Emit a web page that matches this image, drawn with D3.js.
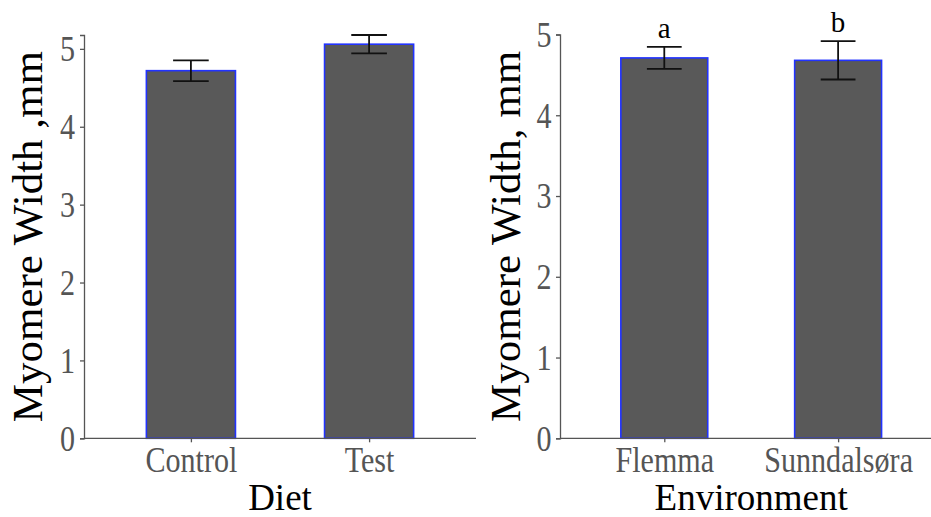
<!DOCTYPE html>
<html>
<head>
<meta charset="utf-8">
<script src="https://cdn.jsdelivr.net/npm/d3@7"></script>
<style>
  html, body { margin: 0; padding: 0; background: #fff; }
  svg { display: block; }
  svg text { font-family: "Liberation Serif", "Times New Roman", "DejaVu Serif", serif; }
</style>
</head>
<body>
<svg id="chart" width="931" height="517"></svg>
<script>
// ---- Data ----
const dietCategories = ["Control", "Test"];
const dietMeans = [4.72, 5.06];
const dietSE = [0.133, 0.118];

const envCategories = ["Flemma", "Sunndalsøra"];
const envMeans = [4.71, 4.68];
const envSE = [0.136, 0.237];
const envLetters = ["a", "b"];

const yTicks = [0, 1, 2, 3, 4, 5];

const leftYTitle = "Myomere Width ,mm";
const rightYTitle = "Myomere Width, mm";
const leftXTitle = "Diet";
const rightXTitle = "Environment";

// ---- Drawing ----
const svg = d3.select("#chart");
const FONT = '"Liberation Serif", "Times New Roman", serif';
const TICK_SCALE = 0.86;

function drawPanel(opt) {
  const g = svg.append("g");
  const x = d3.scalePoint().domain(opt.categories).range([opt.x0, opt.x1]).padding(0.6);
  const step = x.step();
  const y = d3.scaleLinear().domain([0, opt.yMax]).range([opt.yBottom, opt.yTop]);

  const rows = opt.categories.map((c, i) => ({ c, m: opt.means[i], se: opt.se[i], lab: opt.letters ? opt.letters[i] : null }));

  // bars
  g.selectAll("rect.bar").data(rows).join("rect")
    .attr("class", "bar")
    .attr("x", d => x(d.c) - step * 0.25)
    .attr("width", step * 0.5)
    .attr("y", d => y(d.m))
    .attr("height", d => y(0) - y(d.m))
    .attr("fill", "#595959")
    .attr("stroke", "#2233ff")
    .attr("stroke-width", 1.6);

  // error bars
  const eb = g.selectAll("g.err").data(rows).join("g").attr("class", "err")
    .attr("stroke", "#111").attr("stroke-width", 1.8).attr("fill", "none");
  eb.append("line")
    .attr("x1", d => x(d.c)).attr("x2", d => x(d.c))
    .attr("y1", d => y(d.m + d.se)).attr("y2", d => y(d.m - d.se));
  eb.append("line")
    .attr("x1", d => x(d.c) - step * 0.1).attr("x2", d => x(d.c) + step * 0.1)
    .attr("y1", d => y(d.m + d.se)).attr("y2", d => y(d.m + d.se));
  eb.append("line")
    .attr("x1", d => x(d.c) - step * 0.1).attr("x2", d => x(d.c) + step * 0.1)
    .attr("y1", d => y(d.m - d.se)).attr("y2", d => y(d.m - d.se));

  // letters
  if (opt.letters) {
    g.selectAll("text.letter").data(rows).join("text")
      .attr("class", "letter")
      .attr("x", d => x(d.c))
      .attr("y", d => y(d.m + d.se) - 9)
      .attr("text-anchor", "middle")
      .style("font-family", FONT)
      .style("font-size", "29px")
      .attr("fill", "#000")
      .text(d => d.lab);
  }

  // y axis
  const ya = g.append("g").attr("transform", `translate(${opt.x0},0)`)
    .call(d3.axisLeft(y).tickValues(yTicks).tickFormat(d3.format("d")).tickSizeOuter(0).tickSize(4));
  ya.attr("font-family", null).attr("font-size", null);
  ya.select(".domain").attr("stroke", "#555").attr("stroke-width", 1.3);
  ya.selectAll(".tick line").attr("stroke", "#555").attr("stroke-width", 1.3);
  ya.selectAll(".tick text")
    .style("font-family", FONT).style("font-size", "35px").attr("fill", "#555")
    .attr("x", -opt.yLabelGap / TICK_SCALE).attr("dy", "0.34em")
    .attr("transform", `scale(${TICK_SCALE},1)`);

  // x axis
  const xa = g.append("g").attr("transform", `translate(0,${opt.yBottom})`)
    .call(d3.axisBottom(x).tickSizeOuter(0).tickSize(4));
  xa.attr("font-family", null).attr("font-size", null);
  xa.select(".domain").attr("stroke", "#555").attr("stroke-width", 1.3)
    .attr("d", `M${opt.x0},0H${opt.x1}`);
  xa.selectAll(".tick line").attr("stroke", "#555").attr("stroke-width", 1.3);
  xa.selectAll(".tick text")
    .style("font-family", FONT).style("font-size", "35px").attr("fill", "#555")
    .attr("y", 34).attr("dy", 0)
    .attr("transform", `scale(${TICK_SCALE},1)`);

  // axis titles
  g.append("text")
    .attr("x", (opt.x0 + opt.x1) / 2).attr("y", 510)
    .attr("text-anchor", "middle")
    .style("font-family", FONT).style("font-size", "37px").attr("fill", "#000")
    .text(opt.xTitle);
  g.append("text")
    .attr("transform", `translate(${opt.yTitleX},${(opt.yTop + opt.yBottom) / 2}) rotate(-90)`)
    .attr("text-anchor", "middle")
    .style("font-family", FONT).style("font-size", "43px").attr("fill", "#000")
    .text(opt.yTitle);
}

drawPanel({
  categories: dietCategories, means: dietMeans, se: dietSE, letters: null,
  x0: 84, x1: 476, yTop: 35, yBottom: 438.3,
  yMax: d3.max(dietMeans.map((m, i) => m + dietSE[i])),
  yLabelGap: 9, yTitleX: 42, xTitle: leftXTitle, yTitle: leftYTitle
});

drawPanel({
  categories: envCategories, means: envMeans, se: envSE, letters: envLetters,
  x0: 560, x1: 942.4, yTop: 34.5, yBottom: 438.3,
  yMax: 5,
  yLabelGap: 8.5, yTitleX: 520, xTitle: rightXTitle, yTitle: rightYTitle
});
</script>
</body>
</html>
